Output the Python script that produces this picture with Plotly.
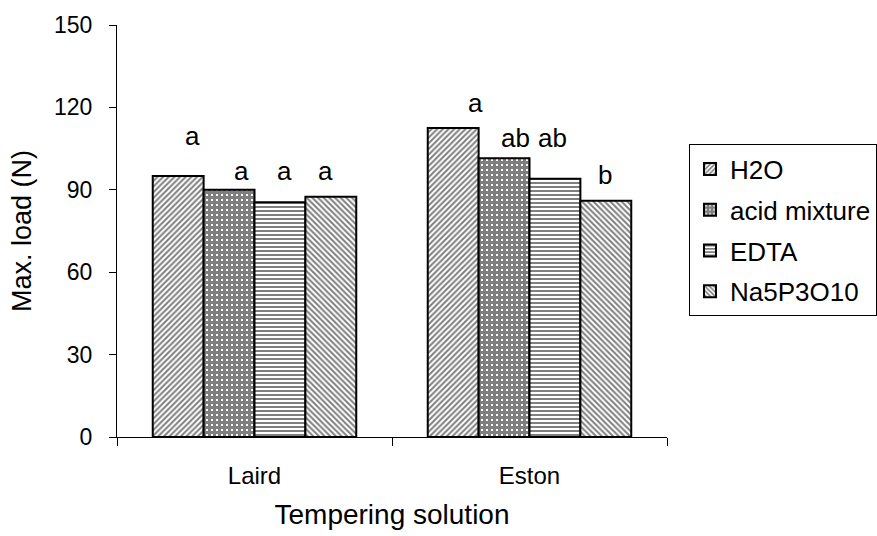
import plotly.graph_objects as go

categories = ["Laird", "Eston"]
series_names = ["H2O", "acid mixture", "EDTA", "Na5P3O10"]
h2o = [95, 112.5]
acid = [90, 101.5]
edta = [85.5, 94]
na5p3o10 = [87.5, 86]
series_values = [h2o, acid, edta, na5p3o10]

# significance letters (per category, per series) and their label heights
letters = [["a", "a", "a", "a"], ["a", "ab", "ab", "b"]]
letter_y = [[109.5, 97, 97, 97], [121.5, 108.8, 108.8, 95.5]]
letter_shift = [[14, 12, 4, -6], [-54, -14, 23, 75]]

patterns = [
    dict(shape="/", size=4, solidity=0.5, fgcolor="black", bgcolor="white"),
    dict(shape="+", size=5, solidity=0.85, fgcolor="black", bgcolor="white"),
    dict(shape="-", size=4, solidity=0.5, fgcolor="black", bgcolor="white"),
    dict(shape="\\", size=4, solidity=0.5, fgcolor="black", bgcolor="white"),
]

FONT = "Liberation Sans, Arial, sans-serif"

fig = go.Figure()
for i, (name, vals) in enumerate(zip(series_names, series_values)):
    fig.add_trace(go.Bar(
        x=categories, y=vals, name=name, legendgroup=name,
        marker=dict(color="white", pattern=patterns[i],
                    line=dict(color="black", width=2)),
    ))

annotations = []
for ci, cat in enumerate(categories):
    for si in range(len(series_names)):
        annotations.append(dict(
            x=cat, y=letter_y[ci][si], xref="x", yref="y",
            text=letters[ci][si], showarrow=False,
            xshift=letter_shift[ci][si] + (si - 1.5) * 51 if ci == 0 else letter_shift[ci][si],
            yanchor="middle",
            font=dict(family=FONT, size=26, color="black"),
        ))

fig.update_layout(
    width=877, height=536,
    margin=dict(l=117, r=210, t=25, b=99, autoexpand=False),
    paper_bgcolor="white", plot_bgcolor="white",
    barmode="group", bargap=0.26, bargroupgap=0,
    font=dict(family=FONT, color="black"),
    showlegend=True,
    legend=dict(
        x=1.04, y=0.71, xanchor="left", yanchor="top",
        bordercolor="black", borderwidth=1,
        font=dict(family=FONT, size=26, color="black"),
        traceorder="grouped", tracegroupgap=4,
        bgcolor="white",
    ),
    annotations=annotations,
)

fig.update_xaxes(
    showline=True, linecolor="black", linewidth=1,
    ticks="outside", tickson="boundaries", ticklen=8, tickcolor="black",
    tickfont=dict(family=FONT, size=24, color="black"),
    ticklabelstandoff=17,
    title=dict(text="Tempering solution", font=dict(family=FONT, size=28, color="black"), standoff=16),
    showgrid=False,
)
fig.update_yaxes(
    range=[0, 150], dtick=30, tick0=0,
    showline=True, linecolor="black", linewidth=1,
    ticks="outside", ticklen=7, tickcolor="black",
    tickfont=dict(family=FONT, size=23, color="black"),
    ticklabelstandoff=12,
    title=dict(text="Max. load (N)", font=dict(family=FONT, size=27, color="black"), standoff=14),
    showgrid=False, zeroline=False,
)

fig.write_html("out.html")
